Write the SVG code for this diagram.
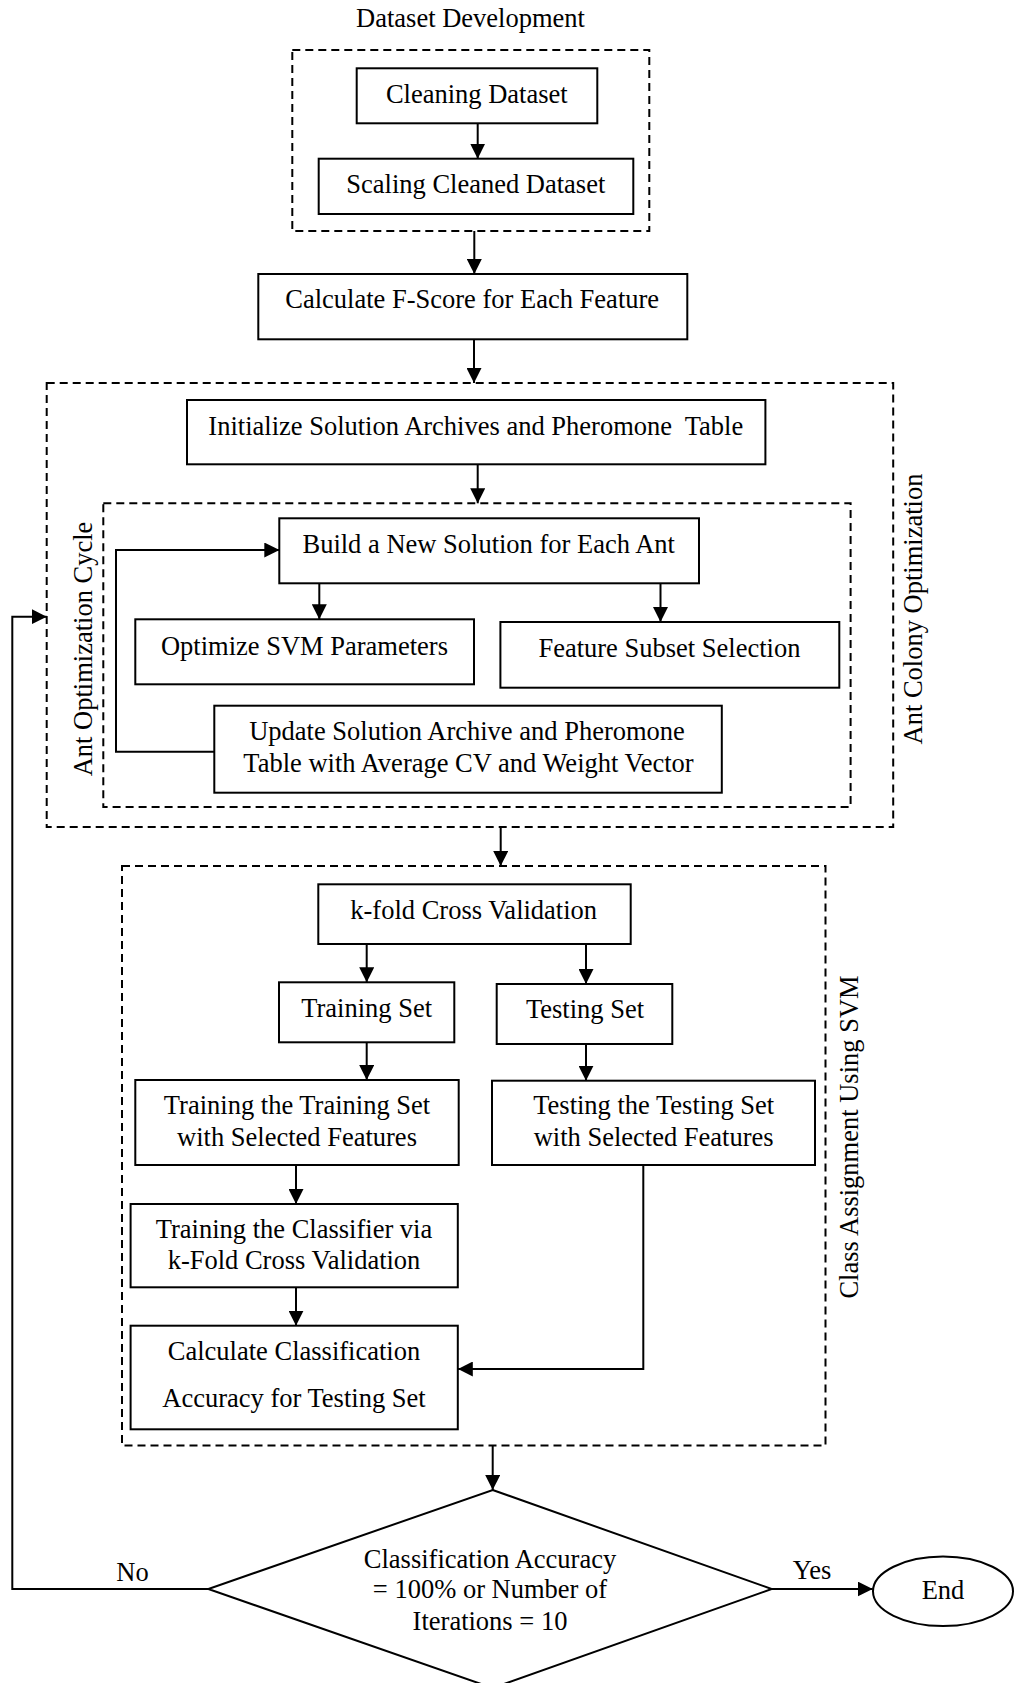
<svg xmlns="http://www.w3.org/2000/svg" width="1014" height="1683" viewBox="0 0 1014 1683">
  <style>
    .box { fill: #fff; stroke: #000; stroke-width: 2; }
    .group { fill: none; stroke: #000; stroke-width: 2; stroke-dasharray: 8 5; }
    .wire { fill: none; stroke: #000; stroke-width: 2; }
    text { font-family: "Liberation Serif", "Times New Roman", serif; font-size: 26.5px; fill: #000; text-anchor: middle; }
  </style>
  <defs>
    <marker id="arrow" markerUnits="userSpaceOnUse" markerWidth="15" markerHeight="15" refX="15" refY="7.5" orient="auto">
      <path d="M0,0 L15,7.5 L0,15 z" fill="#000"/>
    </marker>
  </defs>
  <rect width="1014" height="1683" fill="#fff"/>

  <!-- grouping frames -->
  <g id="frames">
    <rect class="group" x="292.3" y="50" width="357" height="181"/>
    <rect class="group" x="46.7" y="383" width="846.5" height="444"/>
    <rect class="group" x="103.3" y="503.3" width="747.3" height="303.7"/>
    <rect class="group" x="122" y="866" width="703.5" height="579.5"/>
    <text x="470.5" y="27">Dataset Development</text>
    <text transform="translate(91.5,649) rotate(-90)">Ant Optimization Cycle</text>
    <text transform="translate(922,609) rotate(-90)">Ant Colony Optimization</text>
    <text transform="translate(858,1137) rotate(-90)">Class Assignment Using SVM</text>
  </g>

  <!-- connectors -->
  <g id="connectors">
    <path class="wire" d="M477.7,123.3 V158.7" marker-end="url(#arrow)"/>
    <path class="wire" d="M474.3,231 V274" marker-end="url(#arrow)"/>
    <path class="wire" d="M474,339.3 V383" marker-end="url(#arrow)"/>
    <path class="wire" d="M477.7,464.3 V503.3" marker-end="url(#arrow)"/>
    <path class="wire" d="M319.3,583.3 V619.3" marker-end="url(#arrow)"/>
    <path class="wire" d="M660.5,583.3 V622" marker-end="url(#arrow)"/>
    <path class="wire" d="M214.3,751.7 H116 V550 H279.3" marker-end="url(#arrow)"/>
    <path class="wire" d="M208.3,1589 H12.3 V616.7 H46.7" marker-end="url(#arrow)"/>
    <path class="wire" d="M500.7,827 V866" marker-end="url(#arrow)"/>
    <path class="wire" d="M366.7,944 V982.3" marker-end="url(#arrow)"/>
    <path class="wire" d="M586,944 V984" marker-end="url(#arrow)"/>
    <path class="wire" d="M366.7,1042.3 V1080" marker-end="url(#arrow)"/>
    <path class="wire" d="M586,1044 V1080.7" marker-end="url(#arrow)"/>
    <path class="wire" d="M296,1165 V1204" marker-end="url(#arrow)"/>
    <path class="wire" d="M296,1287.3 V1325.7" marker-end="url(#arrow)"/>
    <path class="wire" d="M643.3,1165 V1369 H457.8" marker-end="url(#arrow)"/>
    <path class="wire" d="M492.7,1445.5 V1490" marker-end="url(#arrow)"/>
    <path class="wire" d="M771.7,1589 H872.7" marker-end="url(#arrow)"/>
    <text x="132.5" y="1580.7">No</text>
    <text x="812" y="1579">Yes</text>
  </g>

  <g id="cleaning">
    <rect class="box" x="356.7" y="68.3" width="240.6" height="55"/>
    <text x="476.8" y="103.3">Cleaning Dataset</text>
  </g>
  <g id="scaling">
    <rect class="box" x="318.7" y="158.7" width="314.6" height="55.3"/>
    <text x="475.8" y="193.3">Scaling Cleaned Dataset</text>
  </g>
  <g id="fscore">
    <rect class="box" x="258.3" y="274" width="429" height="65.3"/>
    <text x="472.2" y="308.3">Calculate F-Score for Each Feature</text>
  </g>
  <g id="initialize">
    <rect class="box" x="187" y="400" width="578.4" height="64.3"/>
    <text x="475.8" y="435" xml:space="preserve">Initialize Solution Archives and Pheromone  Table</text>
  </g>
  <g id="build">
    <rect class="box" x="279.3" y="518.3" width="419.7" height="65"/>
    <text x="488.7" y="553.3">Build a New Solution for Each Ant</text>
  </g>
  <g id="optimize-svm">
    <rect class="box" x="135.3" y="619.3" width="338.7" height="65"/>
    <text x="304.5" y="655">Optimize SVM Parameters</text>
  </g>
  <g id="feature-subset">
    <rect class="box" x="500.4" y="622" width="338.9" height="65.7"/>
    <text x="669.4" y="656.7">Feature Subset Selection</text>
  </g>
  <g id="update">
    <rect class="box" x="214.3" y="705.7" width="507.5" height="87"/>
    <text x="467" y="740">Update Solution Archive and Pheromone</text>
    <text x="468.5" y="771.7">Table with Average CV and Weight Vector</text>
  </g>
  <g id="kfold">
    <rect class="box" x="318.3" y="884.3" width="312.4" height="59.7"/>
    <text x="473.7" y="919">k-fold Cross Validation</text>
  </g>
  <g id="training-set">
    <rect class="box" x="279" y="982.3" width="175.3" height="60"/>
    <text x="366.7" y="1016.7">Training Set</text>
  </g>
  <g id="testing-set">
    <rect class="box" x="496.7" y="984" width="175.6" height="60"/>
    <text x="585" y="1018.3">Testing Set</text>
  </g>
  <g id="train-selected">
    <rect class="box" x="135.3" y="1080" width="323.4" height="85"/>
    <text x="297" y="1114.3">Training the Training Set</text>
    <text x="297" y="1146">with Selected Features</text>
  </g>
  <g id="test-selected">
    <rect class="box" x="492" y="1080.7" width="323" height="84.3"/>
    <text x="653.7" y="1114.3">Testing the Testing Set</text>
    <text x="653.7" y="1146">with Selected Features</text>
  </g>
  <g id="train-classifier">
    <rect class="box" x="130.6" y="1204" width="327.2" height="83.3"/>
    <text x="294" y="1238.3">Training the Classifier via</text>
    <text x="294" y="1269.3">k-Fold Cross Validation</text>
  </g>
  <g id="accuracy">
    <rect class="box" x="130.6" y="1325.7" width="327.2" height="103.6"/>
    <text x="294" y="1360">Calculate Classification</text>
    <text x="294" y="1406.7">Accuracy for Testing Set</text>
  </g>
  <g id="decision">
    <path class="box" d="M492.7,1490 L771.7,1589 L492.7,1688 L208.3,1589 z"/>
    <text x="490" y="1568.3">Classification Accuracy</text>
    <text x="490" y="1598.3">= 100% or Number of</text>
    <text x="490" y="1630">Iterations = 10</text>
  </g>
  <g id="end">
    <ellipse class="box" cx="943" cy="1591.3" rx="70" ry="34.7"/>
    <text x="943" y="1599.3">End</text>
  </g>
</svg>
